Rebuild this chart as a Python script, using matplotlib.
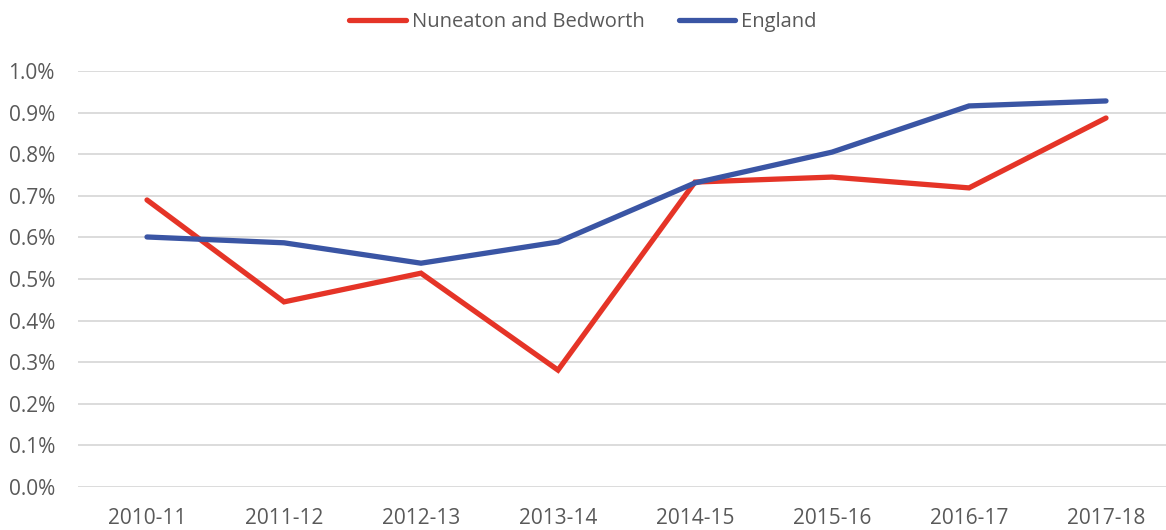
import matplotlib.pyplot as plt
from matplotlib.ticker import FuncFormatter

years = ["2010-11", "2011-12", "2012-13", "2013-14", "2014-15", "2015-16", "2016-17", "2017-18"]
nuneaton = [0.69, 0.445, 0.514, 0.281, 0.733, 0.745, 0.719, 0.887]
england = [0.601, 0.587, 0.538, 0.589, 0.731, 0.805, 0.916, 0.928]

plt.rcParams['font.family'] = ['Open Sans', 'DejaVu Sans']

fig = plt.figure(figsize=(11.66, 5.30), dpi=100)
ax = fig.add_axes([78.5 / 1166, 43 / 530, 1096 / 1166, 416 / 530])

x = range(len(years))
ax.plot(x, nuneaton, color='#E53427', lw=3.8, solid_capstyle='round',
        solid_joinstyle='miter', label='Nuneaton and Bedworth', zorder=3)
ax.plot(x, england, color='#3A55A4', lw=3.8, solid_capstyle='round',
        solid_joinstyle='miter', label='England', zorder=3)

ax.set_xlim(-0.5, len(years) - 0.5)
ax.set_ylim(0, 1.0)
ax.set_yticks([i / 10 for i in range(11)])
ax.yaxis.set_major_formatter(FuncFormatter(lambda v, p: f"{v:.1f}%"))
ax.set_xticks(list(x))
ax.set_xticklabels(years)

ax.grid(axis='y', color='#D9D9D9', lw=1.3)
ax.set_axisbelow(True)
for s in ax.spines.values():
    s.set_visible(False)
ax.tick_params(length=0, labelsize=15, colors='#595959')
ax.tick_params(axis='x', pad=15)
ax.tick_params(axis='y', pad=17)

fig.legend(loc='upper center', bbox_to_anchor=(0.5, 1.012), ncol=2, frameon=False,
           fontsize=14.5, labelcolor='#595959', handlelength=2.8, handletextpad=0.3,
           columnspacing=1.7)

plt.savefig('out.png', dpi=100)
